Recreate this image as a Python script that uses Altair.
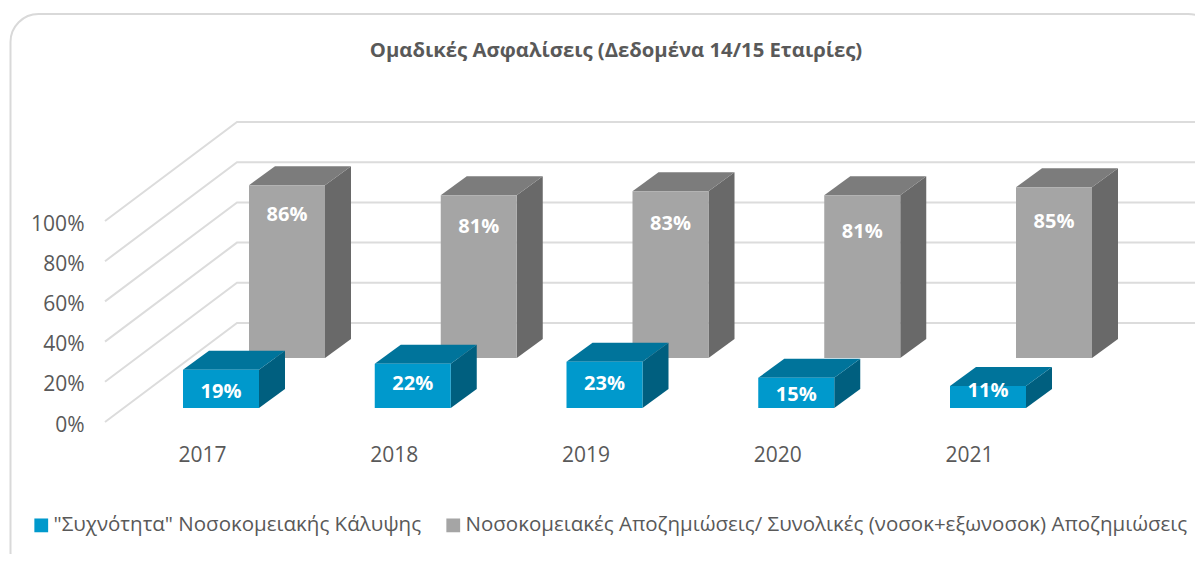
import altair as alt
import pandas as pd

years = [2017, 2018, 2019, 2020, 2021]
hospital_freq = [19, 22, 23, 15, 11]
hospital_claims = [86, 81, 83, 81, 85]
blue_name = '"Συχνότητα" Νοσοκομειακής Κάλυψης'
grey_name = 'Νοσοκομειακές Αποζημιώσεις/ Συνολικές (νοσοκ+εξωνοσοκ) Αποζημιώσεις'
title_text = "Ομαδικές Ασφαλίσεις (Δεδομένα 14/15 Εταιρίες)"
levels = [0, 20, 40, 60, 80, 100]
# how far each data label sits below its bar top, in screen pixels
blue_drop = [22, 20, 22, 17, 5]
grey_drop = [30, 32, 33, 37, 35]

FONT = "Open Sans"
TEXT = "#595959"
PX_X = 191.75          # pixels per year
PX_Y = 2.01            # pixels per percent
W, H = 1090, 201
LEFT, TOP = 97, 213

def dx(px):
    return px / PX_X

def dy(px):
    return px / PX_Y

x_min = 2017 + dx(105 - 202)
x_max = x_min + dx(W)
x_scale = alt.Scale(domain=[x_min, x_max], nice=False, zero=False)
y_scale = alt.Scale(domain=[0, 100], nice=False, zero=False)

x_axis = alt.Axis(
    title=None, values=years, format="d", domain=False, ticks=False, grid=False,
    labelFont=FONT, labelFontSize=21, labelColor=TEXT, labelPadding=22, labelFlush=False,
    labelOverlap=False)
y_axis = alt.Axis(
    title=None, values=levels, domain=False, ticks=False, grid=False,
    labelFont=FONT, labelFontSize=21, labelColor=TEXT, labelPadding=21, labelOffset=3,
    labelExpr="datum.value + '%'")

bar_w, dep_x, dep_y = dx(76), dx(26), dy(19)

def faces(values, off_x, base, drops):
    front, top, side, labels = [], [], [], []
    for yr, v, d in zip(years, values, drops):
        x0 = yr + off_x
        x1 = x0 + bar_w
        t = base + v
        front.append(dict(x=x0, x2=x1, y=base, y2=t))
        for a, lo, hi in [
            (x0, t, t),
            (x0 + dep_x, t, t + dep_y),
            (x1, t, t + dep_y),
            (x1 + dep_x, t + dep_y, t + dep_y),
        ]:
            top.append(dict(g=yr, x=a, y=hi, y2=lo))
        side.append(dict(g=yr, x=x1, y=t, y2=base))
        side.append(dict(g=yr, x=x1 + dep_x, y=t + dep_y, y2=base + dep_y))
        labels.append(dict(x=(x0 + x1) / 2, y=t - dy(d), t=f"{v}%"))
    return tuple(pd.DataFrame(r) for r in (front, top, side, labels))

X = lambda: alt.X("x:Q", scale=x_scale, axis=x_axis)
Y = lambda: alt.Y("y:Q", scale=y_scale, axis=y_axis, stack=None)

color_scale = alt.Scale(domain=[blue_name, grey_name], range=["#0099cc", "#a5a5a5"])

def bar_layers(name, values, off_x, base, drops, top_c, side_c):
    f, t, s, l = faces(values, off_x, base, drops)
    f["series"] = name
    area = alt.Chart(t).mark_area(color=top_c).encode(
        x=X(), y=Y(), y2="y2:Q", detail="g:N")
    side = alt.Chart(s).mark_area(color=side_c).encode(
        x=X(), y=Y(), y2="y2:Q", detail="g:N")
    front = alt.Chart(f).mark_rect().encode(
        x=X(), x2="x2:Q", y=Y(), y2="y2:Q",
        color=alt.Color(
            "series:N", scale=color_scale,
            legend=alt.Legend(
                title=None, orient="none", legendX=-74, legendY=294, columns=2,
                symbolType="square", symbolSize=190, symbolStrokeWidth=0, symbolOpacity=1,
                labelFont=FONT, labelFontSize=20.5, labelColor=TEXT, labelLimit=1000,
                columnPadding=21, labelOffset=2,
            ),
        ),
    )
    text = alt.Chart(l).mark_text(
        font=FONT, fontSize=20, fontWeight="bold", color="white", baseline="middle"
    ).encode(x=X(), y=Y(), text="t:N")
    return [side, area, front, text]

# outer rounded frame
frame = alt.Chart(pd.DataFrame([dict(
    x=x_min + dx(10.5 - 105), x2=x_min + dx(1216 - 105), y=dy(422 - 14), y2=dy(422 - 580)
)])).mark_rect(fillOpacity=0, fill="white", stroke="#d9d9d9", strokeWidth=2, cornerRadius=28).encode(
    x=X(), x2="x2:Q", y=Y(), y2="y2:Q")

# perspective gridlines
grid_rows = []
for lv in levels:
    grid_rows += [
        dict(g=lv, x=x_min, y=lv),
        dict(g=lv, x=x_min + dx(132), y=lv + dy(99)),
        dict(g=lv, x=x_min + dx(1196 - 105), y=lv + dy(99)),
    ]
grid = alt.Chart(pd.DataFrame(grid_rows)).mark_line(color="#dcdcdc", strokeWidth=2).encode(
    x=X(), y=Y(), detail="g:N")

heading = alt.Chart(pd.DataFrame([dict(
    x=2017 + dx(616 - 202), y=dy(422 - 51), t=title_text
)])).mark_text(
    font=FONT, fontSize=20.3, fontWeight="bold", color=TEXT, baseline="middle", limit=900
).encode(x=X(), y=Y(), text="t:N")

layers = [frame, grid, heading]
layers += bar_layers(grey_name, hospital_claims, dx(47), dy(64), grey_drop, "#7c7c7c", "#696969")
layers += bar_layers(blue_name, hospital_freq, dx(-19), dy(14), blue_drop, "#00749b", "#005f7f")

chart = alt.layer(*layers).properties(
    width=W, height=H,
    autosize=alt.AutoSizeParams(type="none"),
    padding={"left": LEFT, "top": TOP, "right": 0, "bottom": 132},
    background="white",
).configure_view(strokeWidth=0)

chart.save("out.html", embed_options={"renderer": "svg", "actions": False})
